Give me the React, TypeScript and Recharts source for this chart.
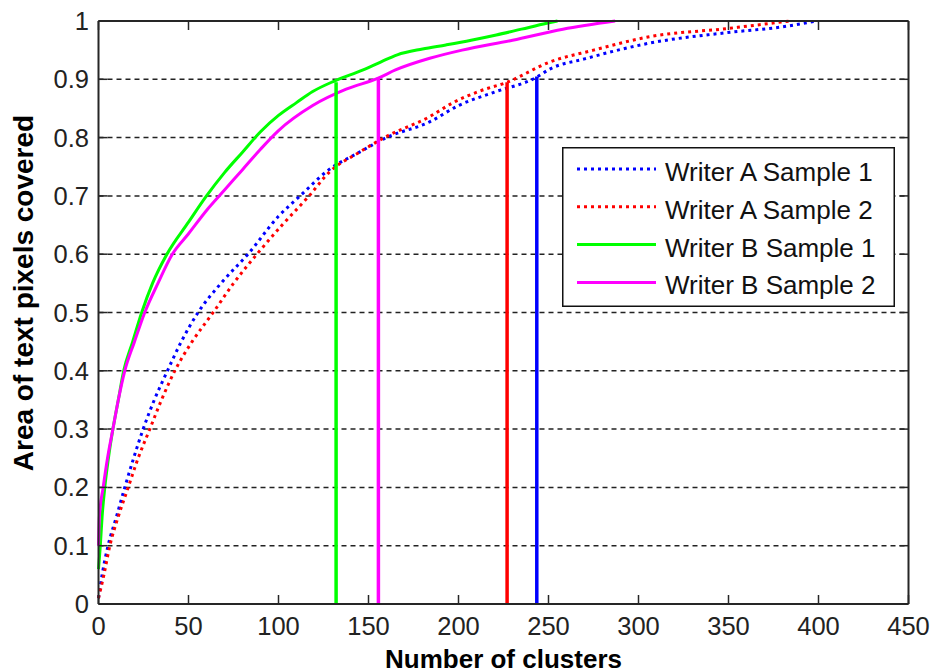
import React from 'react';
import { LineChart, Line, XAxis, YAxis, CartesianGrid, Legend } from 'recharts';

const FONT = '"Liberation Sans", Arial, sans-serif';
const AXIS = '#262626';

// chart frame
const CHART_W = 931;
const CHART_H = 672;
const MARGIN = { top: 21, right: 22.5, left: 0, bottom: 0 };
const Y_AXIS_W = 98.5;
const X_AXIS_H = 68;
const PLOT_W = CHART_W - Y_AXIS_W - MARGIN.right;
const PLOT_H = CHART_H - MARGIN.top - X_AXIS_H;

const xTicks = [0, 50, 100, 150, 200, 250, 300, 350, 400, 450];
const yTicks = [0, 0.1, 0.2, 0.3, 0.4, 0.5, 0.6, 0.7, 0.8, 0.9, 1];

// Writer A Sample 1 (blue, dotted)
const writerA1 = [
  { n: 0, area: 0.01 }, { n: 2, area: 0.05 }, { n: 5.3, area: 0.1 }, { n: 10, area: 0.15 },
  { n: 14.6, area: 0.2 }, { n: 19.5, area: 0.25 }, { n: 24.8, area: 0.3 }, { n: 31, area: 0.35 },
  { n: 38.3, area: 0.4 }, { n: 46, area: 0.45 }, { n: 55.3, area: 0.5 }, { n: 68, area: 0.55 },
  { n: 83, area: 0.6 }, { n: 100, area: 0.665 }, { n: 112, area: 0.7 }, { n: 128, area: 0.745 },
  { n: 145, area: 0.775 }, { n: 160, area: 0.8 }, { n: 184, area: 0.827 }, { n: 200, area: 0.855 },
  { n: 220, area: 0.878 }, { n: 243, area: 0.903 }, { n: 251, area: 0.918 }, { n: 270, area: 0.935 },
  { n: 306, area: 0.962 }, { n: 349, area: 0.98 }, { n: 380, area: 0.99 }, { n: 399, area: 1.0 },
];

// Writer A Sample 2 (red, dotted)
const writerA2 = [
  { n: 0, area: 0.01 }, { n: 3, area: 0.05 }, { n: 6.3, area: 0.1 }, { n: 11, area: 0.15 },
  { n: 16.5, area: 0.2 }, { n: 22, area: 0.25 }, { n: 28.5, area: 0.3 }, { n: 35, area: 0.35 },
  { n: 42.4, area: 0.4 }, { n: 52, area: 0.45 }, { n: 63.7, area: 0.5 }, { n: 75, area: 0.55 },
  { n: 88, area: 0.6 }, { n: 102, area: 0.65 }, { n: 117, area: 0.7 }, { n: 128, area: 0.74 },
  { n: 145, area: 0.775 }, { n: 160, area: 0.802 }, { n: 184, area: 0.836 }, { n: 197, area: 0.86 },
  { n: 212, area: 0.88 }, { n: 227, area: 0.895 }, { n: 251, area: 0.93 }, { n: 275, area: 0.95 },
  { n: 306, area: 0.973 }, { n: 349, area: 0.987 }, { n: 384, area: 1.0 },
];

// Writer B Sample 1 (green, solid)
const writerB1 = [
  { n: 0, area: 0.06 }, { n: 1, area: 0.1 }, { n: 2, area: 0.15 }, { n: 3.5, area: 0.2 },
  { n: 5.5, area: 0.25 }, { n: 8, area: 0.3 }, { n: 11, area: 0.35 }, { n: 14, area: 0.4 },
  { n: 19, area: 0.45 }, { n: 24, area: 0.5 }, { n: 30, area: 0.55 }, { n: 38, area: 0.6 },
  { n: 50, area: 0.655 }, { n: 60, area: 0.7 }, { n: 70, area: 0.74 }, { n: 80, area: 0.775 },
  { n: 90, area: 0.81 }, { n: 100, area: 0.838 }, { n: 110, area: 0.86 }, { n: 119, area: 0.879 },
  { n: 131, area: 0.897 }, { n: 147, area: 0.916 }, { n: 157, area: 0.93 }, { n: 166, area: 0.942 },
  { n: 180, area: 0.952 }, { n: 193, area: 0.959 }, { n: 207, area: 0.967 }, { n: 221, area: 0.976 },
  { n: 235, area: 0.986 }, { n: 249, area: 0.996 }, { n: 255, area: 1.0 },
];

// Writer B Sample 2 (magenta, solid)
const writerB2 = [
  { n: 0, area: 0.1 }, { n: 0.5, area: 0.15 }, { n: 2.6, area: 0.2 }, { n: 5, area: 0.25 },
  { n: 8, area: 0.3 }, { n: 11, area: 0.35 }, { n: 14.6, area: 0.4 }, { n: 20, area: 0.45 },
  { n: 25.7, area: 0.5 }, { n: 33, area: 0.55 }, { n: 41, area: 0.6 }, { n: 50, area: 0.635 },
  { n: 60, area: 0.675 }, { n: 70, area: 0.71 }, { n: 80, area: 0.745 }, { n: 90, area: 0.78 },
  { n: 100, area: 0.812 }, { n: 119, area: 0.855 }, { n: 137.6, area: 0.883 }, { n: 155.4, area: 0.902 },
  { n: 165, area: 0.916 }, { n: 184, area: 0.936 }, { n: 202, area: 0.95 }, { n: 230, area: 0.967 },
  { n: 258, area: 0.986 }, { n: 287, area: 1.0 },
];

// cluster counts where each sample reaches ~90% coverage
const cutoffs = [
  { key: 'cutB1', n: 132, area: 0.895, color: '#00ff00' },
  { key: 'cutB2', n: 155.5, area: 0.903, color: '#ff00ff' },
  { key: 'cutA2', n: 227, area: 0.895, color: '#ff0000' },
  { key: 'cutA1', n: 243.5, area: 0.905, color: '#0000ff' },
];

const series = [
  { name: 'Writer A Sample 1', data: writerA1, color: '#0000ff', dotted: true },
  { name: 'Writer A Sample 2', data: writerA2, color: '#ff0000', dotted: true },
  { name: 'Writer B Sample 1', data: writerB1, color: '#00ff00', dotted: false },
  { name: 'Writer B Sample 2', data: writerB2, color: '#ff00ff', dotted: false },
];

const BottomTick = (props: any) => {
  const { x, y, payload } = props;
  return (
    <g>
      <line x1={x} y1={y} x2={x} y2={y - 9} stroke={AXIS} strokeWidth={1.5} />
      <text x={x} y={y + 30.5} textAnchor="middle" fontSize={25.5} fill="#222" fontFamily={FONT}>
        {payload.value}
      </text>
    </g>
  );
};

const LeftTick = (props: any) => {
  const { x, y, payload } = props;
  return (
    <g>
      <line x1={x} y1={y} x2={x + 9} y2={y} stroke={AXIS} strokeWidth={1.5} />
      <text x={x - 9.5} y={y + 9} textAnchor="end" fontSize={25.5} fill="#222" fontFamily={FONT}>
        {payload.value}
      </text>
    </g>
  );
};

// MATLAB-style box: top and right edges with inward ticks, drawn over the chart
const BoxOverlay = () => {
  const left = Y_AXIS_W;
  const top = MARGIN.top;
  const right = left + PLOT_W;
  const bottom = top + PLOT_H;
  const xMax = xTicks[xTicks.length - 1];
  const yMax = yTicks[yTicks.length - 1];
  return (
    <svg
      width={CHART_W}
      height={CHART_H}
      style={{ position: 'absolute', left: 0, top: 0, pointerEvents: 'none' }}
    >
      <line x1={left} y1={top} x2={right} y2={top} stroke={AXIS} strokeWidth={2} />
      <line x1={right} y1={top} x2={right} y2={bottom} stroke={AXIS} strokeWidth={2} />
      {xTicks.map((t) => {
        const x = left + (t / xMax) * PLOT_W;
        return <line key={`t${t}`} x1={x} y1={top} x2={x} y2={top + 9} stroke={AXIS} strokeWidth={1.5} />;
      })}
      {yTicks.map((t) => {
        const y = bottom - (t / yMax) * PLOT_H;
        return <line key={`r${t}`} x1={right} y1={y} x2={right - 9} y2={y} stroke={AXIS} strokeWidth={1.5} />;
      })}
    </svg>
  );
};

const LegendBox = () => (
  <svg width={333} height={160} style={{ display: 'block' }}>
    <rect x={0.75} y={0.75} width={331.5} height={158.5} fill="#fff" stroke="#111" strokeWidth={1.5} />
    {series.map((s, i) => {
      const cy = 22 + i * 37.8;
      return (
        <g key={s.name}>
          <line
            x1={15}
            x2={94}
            y1={cy}
            y2={cy}
            stroke={s.color}
            strokeWidth={3}
            strokeDasharray={s.dotted ? '3 4' : undefined}
          />
          <text x={103} y={cy + 12} fontSize={26} fill="#111" fontFamily={FONT}>
            {s.name}
          </text>
        </g>
      );
    })}
  </svg>
);

const App = () => {
  return (
    <div style={{ position: 'absolute', left: 0, top: 0, width: CHART_W, height: CHART_H, background: '#fff' }}>
      <LineChart width={CHART_W} height={CHART_H} margin={MARGIN}>
        <CartesianGrid vertical={false} stroke="#222" strokeWidth={1.5} strokeDasharray="5 4" />
        <XAxis
          dataKey="n"
          type="number"
          domain={[0, 450]}
          ticks={xTicks}
          height={X_AXIS_H}
          tickSize={0}
          tickMargin={0}
          tickLine={false}
          tick={<BottomTick />}
          axisLine={{ stroke: AXIS, strokeWidth: 2 }}
          label={(p: any) => (
            <text
              x={p.viewBox.x + p.viewBox.width / 2}
              y={p.viewBox.y + 63.5}
              textAnchor="middle"
              fontSize={26}
              fontWeight="bold"
              fill="#000"
              fontFamily={FONT}
            >
              Number of clusters
            </text>
          )}
        />
        <YAxis
          type="number"
          domain={[0, 1]}
          ticks={yTicks}
          width={Y_AXIS_W}
          tickSize={0}
          tickMargin={0}
          tickLine={false}
          tick={<LeftTick />}
          axisLine={{ stroke: AXIS, strokeWidth: 2 }}
          label={(p: any) => {
            const cx = p.viewBox.x + 33;
            const cy = p.viewBox.y + p.viewBox.height / 2 - 19.5;
            return (
              <text
                x={cx}
                y={cy}
                transform={`rotate(-90 ${cx} ${cy})`}
                textAnchor="middle"
                fontSize={28}
                fontWeight="bold"
                fill="#000"
                fontFamily={FONT}
              >
                Area of text pixels covered
              </text>
            );
          }}
        />
        {series.map((s) => (
          <Line
            key={s.name}
            name={s.name}
            data={s.data}
            dataKey="area"
            type="monotone"
            stroke={s.color}
            strokeWidth={3}
            strokeDasharray={s.dotted ? '3 4' : undefined}
            dot={false}
            activeDot={false}
            isAnimationActive={false}
          />
        ))}
        {cutoffs.map((c) => (
          <Line
            key={c.key}
            name={c.key}
            data={[
              { n: c.n, area: 0 },
              { n: c.n, area: c.area },
            ]}
            dataKey="area"
            type="linear"
            stroke={c.color}
            strokeWidth={3.5}
            dot={false}
            activeDot={false}
            legendType="none"
            isAnimationActive={false}
          />
        ))}
        <Legend
          layout="vertical"
          align="center"
          verticalAlign="middle"
          content={() => <LegendBox />}
          wrapperStyle={{ left: 562, top: 147, width: 333, height: 160 }}
        />
      </LineChart>
      <BoxOverlay />
    </div>
  );
};

export default App;
